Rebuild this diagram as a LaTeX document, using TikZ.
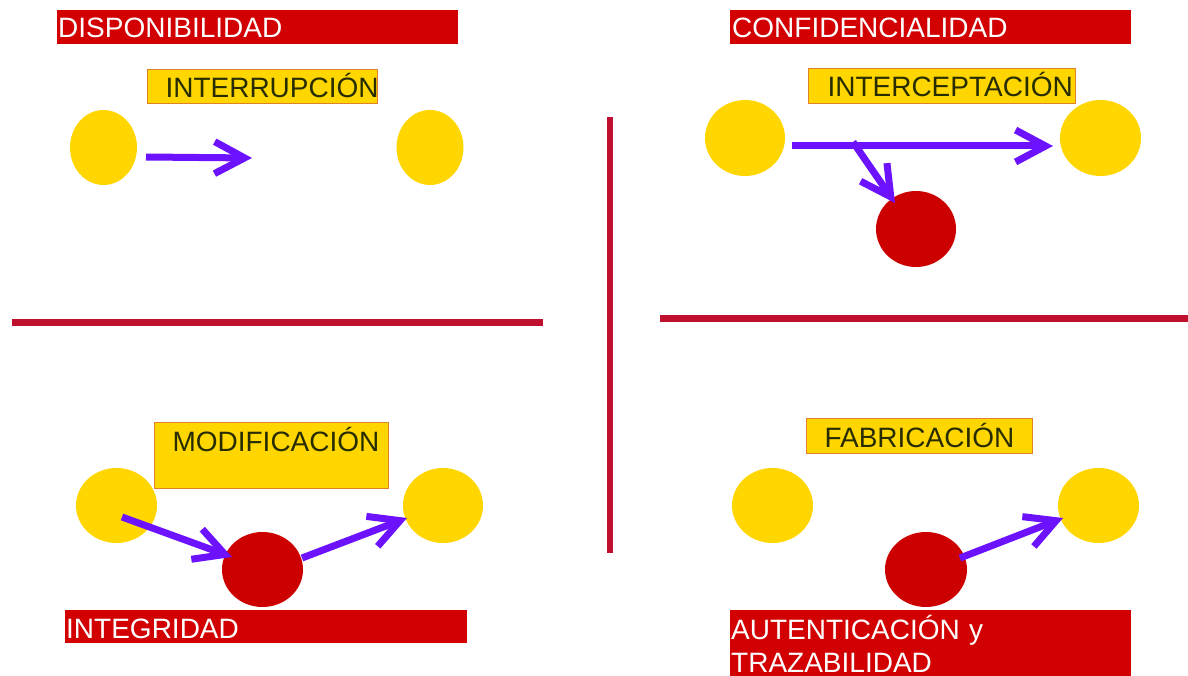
\documentclass[tikz,border=0pt]{standalone}
\usepackage{fontspec}
\setmainfont{Liberation Sans}
\usetikzlibrary{shapes.geometric,arrows.meta,calc}
\definecolor{barred}{RGB}{210,0,0}
\definecolor{circred}{RGB}{205,0,0}
\definecolor{gold}{RGB}{255,214,0}
\definecolor{boxedge}{RGB}{225,130,40}
\definecolor{textdark}{RGB}{40,45,0}
\definecolor{arrowc}{RGB}{108,18,255}
\definecolor{divider}{RGB}{192,16,48}
\begin{document}
\begin{tikzpicture}[x=1pt,y=-1pt,
  big/.style={font=\fontsize{28}{33}\selectfont},
  bar/.style={big, fill=barred, text=white, anchor=north west, inner ysep=0pt, align=left},
  ybox/.style={big, fill=gold, draw=boxedge, line width=1pt, text=textdark, anchor=north west, inner ysep=0pt, align=left},
  ycirc/.style={ellipse, fill=gold, inner sep=0pt},
  rcirc/.style={ellipse, fill=circred, inner sep=0pt},
  arr/.style={draw=arrowc, line width=7pt, -{Straight Barb[length=30pt,width=32pt]}},
  divline/.style={draw=divider, line width=7pt}
]
\useasboundingbox (0,0) rectangle (1188,676);

% dividers
\draw[divline] (12,322) -- (543,322);
\draw[divline] (660,318) -- (1188,318);
\draw[divline, line width=6pt] (610,117) -- (610,553);

% titles
\node[bar, inner xsep=1pt, text width=399pt, text height=27pt, text depth=7pt] (disp) at (57,10) {DISPONIBILIDAD};
\node[bar, inner xsep=2pt, text width=397pt, text height=27pt, text depth=7pt] (conf) at (730,10) {CONFIDENCIALIDAD};
\node[bar, inner xsep=1pt, text width=400pt, text height=28pt, text depth=5pt] (integ) at (65,610) {INTEGRIDAD};
\node[bar, inner xsep=1pt, text width=399pt, text height=29pt, text depth=37pt] (auten) at (730,610) {AUTENTICACIÓN y\\TRAZABILIDAD};

% attack labels
\node[ybox, inner xsep=18pt, text width=194pt, text height=28pt, text depth=6pt] (interr) at (147,69) {INTERRUPCIÓN};
\node[ybox, inner xsep=19pt, text width=229pt, text height=28pt, text depth=7pt] (interc) at (808,68) {INTERCEPTACIÓN};
\node[ybox, inner xsep=18pt, text width=198pt, text height=29pt, text depth=37pt] (modif) at (154,422) {MODIFICACIÓN};
\node[ybox, inner xsep=18pt, text width=190pt, text height=29pt, text depth=6pt] (fabric) at (806,418) {FABRICACIÓN};

% circles: top left
\node[ycirc, minimum width=67pt, minimum height=75pt] (yl1) at (103.5,147.5) {};
\node[ycirc, minimum width=67pt, minimum height=75pt] (yr1) at (430,147.5) {};
% top right
\node[ycirc, minimum width=80pt, minimum height=76pt] (yl2) at (745,138) {};
\node[ycirc, minimum width=81pt, minimum height=76pt] (yr2) at (1100.5,138) {};
\node[rcirc, minimum width=80pt, minimum height=76pt] (rd2) at (916,229) {};
% bottom left
\node[ycirc, minimum width=81pt, minimum height=75pt] (yl3) at (116.5,505.5) {};
\node[ycirc, minimum width=80pt, minimum height=75pt] (yr3) at (443,505.5) {};
\node[rcirc, minimum width=81pt, minimum height=75pt] (rd3) at (262.5,569.5) {};
% bottom right
\node[ycirc, minimum width=81pt, minimum height=75pt] (yl4) at (772.5,505.5) {};
\node[ycirc, minimum width=81pt, minimum height=75pt] (yr4) at (1098.5,505.5) {};
\node[rcirc, minimum width=82pt, minimum height=75pt] (rd4) at (926,569.5) {};

% arrows
\coordinate (cut) at (252,158);
\draw[arr] ($(yl1)+(42.5,9.5)$) -- (cut);
\coordinate (branch) at ($(yl2)+(108,4)$);
\draw[arr] ($(yl2)+(47,8)$) -- ($(yr2)+(-47.5,8)$);
\draw[arr] (branch) -- ($(rd2)+(-21,-26)$);
\draw[arr] ($(yl3)+(5.5,11.5)$) -- ($(rd3)+(-30.5,-12.5)$);
\draw[arr] ($(rd3)+(39.5,-11.5)$) -- ($(yr3)+(-36,12.5)$);
\draw[arr] ($(rd4)+(34,-11.5)$) -- ($(yr4)+(-35.5,12.5)$);
\end{tikzpicture}
\end{document}
